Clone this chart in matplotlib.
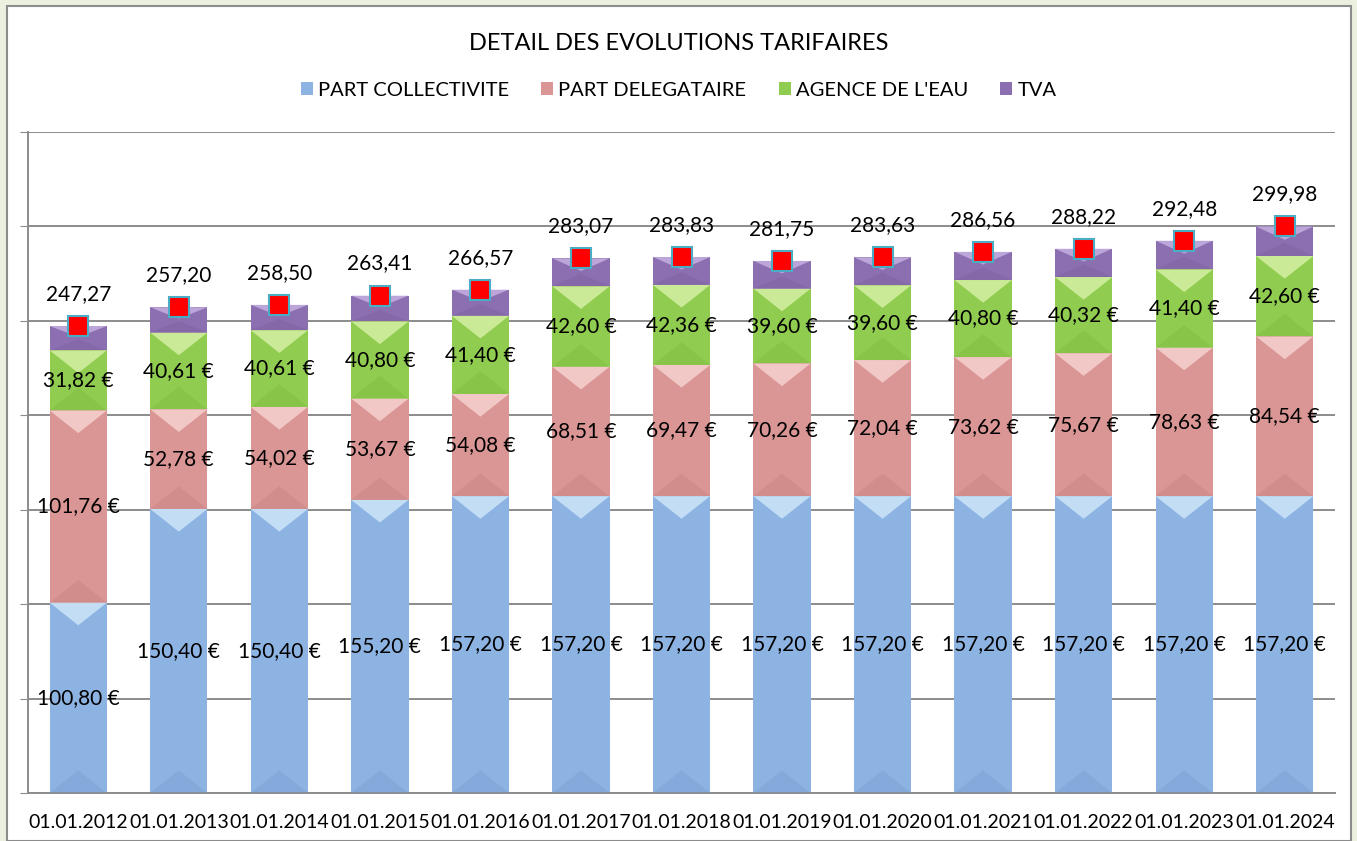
import matplotlib
matplotlib.use('Agg')
import matplotlib.pyplot as plt
from matplotlib.patches import Patch, Polygon, Rectangle
import numpy as np

plt.rcParams['font.family'] = ['Lato', 'DejaVu Sans']

dates = ['01.01.2012', '01.01.2013', '01.01.2014', '01.01.2015', '01.01.2016',
         '01.01.2017', '01.01.2018', '01.01.2019', '01.01.2020', '01.01.2021',
         '01.01.2022', '01.01.2023', '01.01.2024']
collectivite = [100.80, 150.40, 150.40, 155.20, 157.20, 157.20, 157.20,
                157.20, 157.20, 157.20, 157.20, 157.20, 157.20]
delegataire = [101.76, 52.78, 54.02, 53.67, 54.08, 68.51, 69.47,
               70.26, 72.04, 73.62, 75.67, 78.63, 84.54]
agence = [31.82, 40.61, 40.61, 40.80, 41.40, 42.60, 42.36,
          39.60, 39.60, 40.80, 40.32, 41.40, 42.60]
totals = [247.27, 257.20, 258.50, 263.41, 266.57, 283.07, 283.83,
          281.75, 283.63, 286.56, 288.22, 292.48, 299.98]
# TVA = total minus the other three parts
tva = [t - a - b - c for t, a, b, c in zip(totals, collectivite, delegataire, agence)]

series = [
    ('PART COLLECTIVITE', collectivite, '#8db3e2', '#d4ecfb', '#6f97c9'),
    ('PART DELEGATAIRE', delegataire, '#d99694', '#fbd9d8', '#c07a78'),
    ("AGENCE DE L'EAU", agence, '#8fcc4f', '#dff5b0', '#76b43a'),
    ('TVA', tva, '#8c6fb0', '#cdb9e8', '#735898'),
]

fig = plt.figure(figsize=(13.57, 8.41), dpi=100)
fig.patch.set_facecolor('#ebf1de')
fig.patches.append(Rectangle((7 / 1357, 0), 1344 / 1357, 835 / 841,
                             transform=fig.transFigure, facecolor='white',
                             edgecolor='#8c8c8c', linewidth=1.5, zorder=-10))

ax = fig.add_axes([28 / 1357, 48 / 841, 1307 / 1357, 661 / 841])
ax.set_facecolor('none')
x = np.arange(len(dates))
width = 0.57
bottom = np.zeros(len(dates))
for name, values, color, light, dark in series:
    values = np.array(values)
    ax.bar(x, values, width, bottom=bottom, color=color, edgecolor='none', zorder=2)
    for xi, b, h in zip(x, bottom, values):
        x0, x1 = xi - width / 2, xi + width / 2
        top = b + h
        d = min(12, h * 0.45)
        ax.add_patch(Polygon([(x0, top), (x1, top), (xi, top - d)],
                             facecolor=light, edgecolor='none', alpha=0.75, zorder=3))
        ax.add_patch(Polygon([(x0, b), (x1, b), (xi, b + d)],
                             facecolor=dark, edgecolor='none', alpha=0.3, zorder=3))
        if name != 'TVA':
            ax.text(xi, b + h / 2, f'{h:.2f} €'.replace('.', ','), ha='center',
                    va='center', fontsize=15, color='black', zorder=5)
    bottom += values

ax.plot(x, totals, 's', color='#ff0000', markersize=14, markeredgecolor='#4bacc6',
        markeredgewidth=1.5, linestyle='none', zorder=6)
for xi, t in zip(x, totals):
    ax.annotate(f'{t:.2f}'.replace('.', ','), (xi, t), xytext=(0, 23),
                textcoords='offset points', ha='center', va='center', fontsize=15)

ax.set_xlim(-0.5, len(dates) - 0.5)
ax.set_ylim(0, 350)
ax.set_yticks(np.arange(0, 351, 50))
ax.yaxis.grid(True, color='#8c8c8c', linewidth=1.4, zorder=1)
ax.set_axisbelow(True)
ax.set_xticks(x)
ax.set_xticklabels(dates, fontsize=14)
ax.tick_params(axis='x', length=0, pad=15)
ax.tick_params(axis='y', length=6, color='#8c8c8c', labelleft=False)
for side in ['top', 'right']:
    ax.spines[side].set_visible(False)
ax.spines['left'].set_color('#8c8c8c')
ax.spines['bottom'].set_color('#8c8c8c')
ax.spines['left'].set_linewidth(1.4)
ax.spines['bottom'].set_linewidth(1.4)

fig.text(0.5, 1 - 44 / 841, 'DETAIL DES EVOLUTIONS TARIFAIRES', ha='center',
         va='center', fontsize=17)
handles = [Patch(facecolor=s[2], edgecolor='none') for s in series]
fig.legend(handles, [s[0] for s in series], loc='center',
           bbox_to_anchor=(0.5, 1 - 90 / 841), ncol=4, frameon=False, fontsize=14.5,
           handlelength=0.6, handleheight=0.6, handletextpad=0.25, columnspacing=1.6)

fig.savefig('out.png', dpi=100, facecolor=fig.get_facecolor())
